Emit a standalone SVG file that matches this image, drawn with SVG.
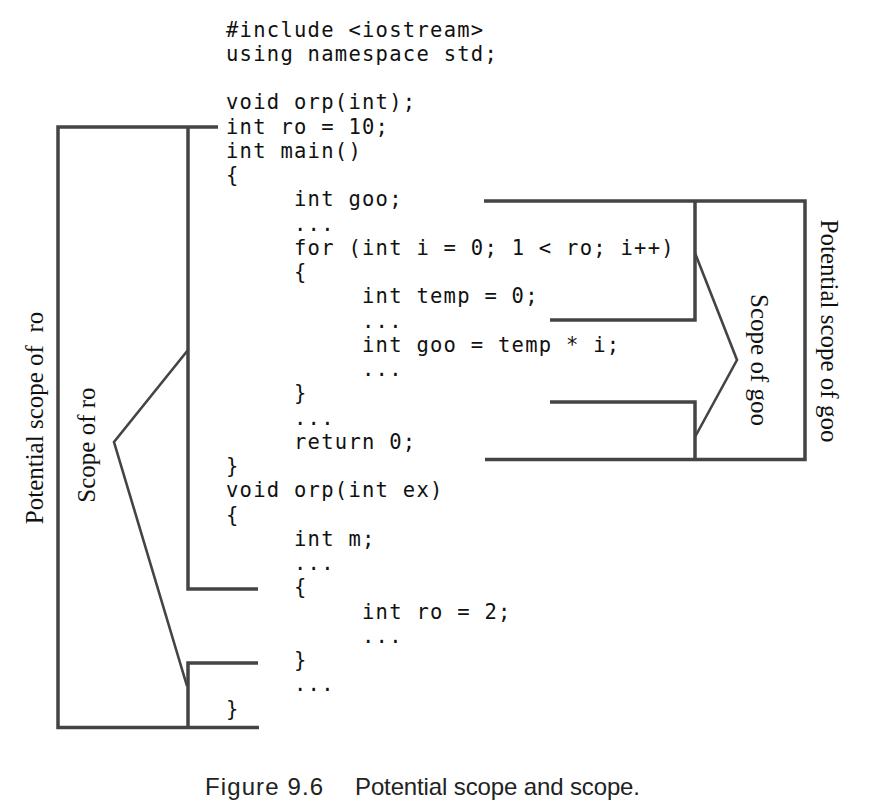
<svg xmlns="http://www.w3.org/2000/svg" width="889" height="802" viewBox="0 0 889 802">
<style>
.code{font-family:"DejaVu Sans Mono","Liberation Mono",monospace;font-size:20.5px;letter-spacing:1.26px;fill:#111}
.lbl{font-family:"Liberation Serif","Times New Roman",serif;font-size:25px;fill:#111}
.cap{font-family:"Liberation Sans",Arial,sans-serif;font-size:24px;fill:#222}
.br{fill:none;stroke:#444;stroke-width:3.5;stroke-linejoin:miter;stroke-linecap:butt}
.zz{fill:none;stroke:#444;stroke-width:2.6;stroke-linejoin:miter}
</style>
<rect width="889" height="802" fill="#fff"/>
<g id="code" class="code">
<text x="226" y="36.5">#include &lt;iostream&gt;</text>
<text x="226" y="60.75">using namespace std;</text>
<text x="226" y="109.25">void orp(int);</text>
<text x="226" y="133.5">int ro = 10;</text>
<text x="226" y="157.75">int main()</text>
<text x="226" y="182">{</text>
<text x="294" y="206.25">int goo;</text>
<text x="294" y="230.5">...</text>
<text x="294" y="254.75">for (int i = 0; 1 &lt; ro; i++)</text>
<text x="294" y="279">{</text>
<text x="362" y="303.25">int temp = 0;</text>
<text x="362" y="327.5">...</text>
<text x="362" y="351.75">int goo = temp * i;</text>
<text x="362" y="376">...</text>
<text x="294" y="400.25">}</text>
<text x="294" y="424.5">...</text>
<text x="294" y="448.75">return 0;</text>
<text x="226" y="473">}</text>
<text x="226" y="497.25">void orp(int ex)</text>
<text x="226" y="521.5">{</text>
<text x="294" y="545.75">int m;</text>
<text x="294" y="570">...</text>
<text x="294" y="594.25">{</text>
<text x="362" y="618.5">int ro = 2;</text>
<text x="362" y="642.75">...</text>
<text x="294" y="667">}</text>
<text x="294" y="691.25">...</text>
<text x="226" y="715.5">}</text>
</g>
<g id="connectors">
<polyline class="br" points="218,127 58,127 58,727.5 259,727.5"/>
<polyline class="br" points="188,127 188,589 258,589"/>
<polyline class="br" points="258,663 188,663 188,727.5"/>
<polyline class="zz" points="188,350 114,442 187,686"/>
<polyline class="br" points="484,201 805,201 805,459.5 485,459.5"/>
<polyline class="br" points="695,201 695,320 550,320"/>
<polyline class="br" points="550,402 695,402 695,459.5"/>
<polyline class="zz" points="695,253 737,360 695,437"/>
</g>
<g id="label-potential-ro"><text class="lbl" transform="translate(43,418) rotate(-90)" text-anchor="middle" xml:space="preserve">Potential scope of  ro</text></g>
<g id="label-scope-ro"><text class="lbl" transform="translate(95,445) rotate(-90)" text-anchor="middle">Scope of ro</text></g>
<g id="label-scope-goo"><text class="lbl" transform="translate(751,360) rotate(90)" text-anchor="middle">Scope of goo</text></g>
<g id="label-potential-goo"><text class="lbl" transform="translate(821,331) rotate(90)" text-anchor="middle">Potential scope of goo</text></g>
<g id="caption" class="cap">
<text x="205" y="795" textLength="118" lengthAdjust="spacing">Figure 9.6</text>
<text x="355" y="795" textLength="285" lengthAdjust="spacing">Potential scope and scope.</text>
</g>
</svg>
